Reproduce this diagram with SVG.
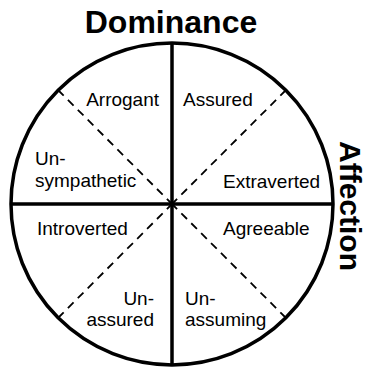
<svg xmlns="http://www.w3.org/2000/svg" width="367" height="368" viewBox="0 0 367 368">
<style>
.lbl{font-family:"Liberation Sans",Arial,sans-serif;font-size:19px;fill:#000}
.ttl{font-family:"Liberation Sans",Arial,sans-serif;font-size:32px;font-weight:bold;fill:#000}
.solid{stroke:#000;stroke-width:3.5;fill:none}
.dash{stroke:#000;stroke-width:1.8;stroke-dasharray:8,6;fill:none}
</style>
<rect width="367" height="368" fill="#fff"/>
<g id="connectors">
<line class="dash" x1="58" y1="90" x2="172" y2="204"/>
<line class="dash" x1="286" y1="90" x2="172" y2="204"/>
<line class="dash" x1="58" y1="318" x2="172" y2="204"/>
<line class="dash" x1="286" y1="318" x2="172" y2="204"/>
<line class="solid" x1="172" y1="43" x2="172" y2="365"/>
<line class="solid" x1="11" y1="204" x2="333" y2="204"/>
<circle class="solid" cx="172" cy="204" r="161"/>
</g>
<g id="dominance"><text class="ttl" x="171" y="33" text-anchor="middle">Dominance</text></g>
<g id="affection"><text class="ttl" transform="translate(339.5,206) rotate(90)" text-anchor="middle" style="font-size:30px">Affection</text></g>
<g id="arrogant"><text class="lbl" x="159" y="106" text-anchor="end">Arrogant</text></g>
<g id="assured"><text class="lbl" x="183" y="106">Assured</text></g>
<g id="unsympathetic"><text class="lbl" x="35" y="165">Un-</text><text class="lbl" x="35" y="187">sympathetic</text></g>
<g id="extraverted"><text class="lbl" x="223" y="188">Extraverted</text></g>
<g id="introverted"><text class="lbl" x="37" y="235">Introverted</text></g>
<g id="agreeable"><text class="lbl" x="223" y="235">Agreeable</text></g>
<g id="unassured"><text class="lbl" x="154" y="305" text-anchor="end">Un-</text><text class="lbl" x="154" y="326" text-anchor="end">assured</text></g>
<g id="unassuming"><text class="lbl" x="185" y="305">Un-</text><text class="lbl" x="185" y="326">assuming</text></g>
</svg>
